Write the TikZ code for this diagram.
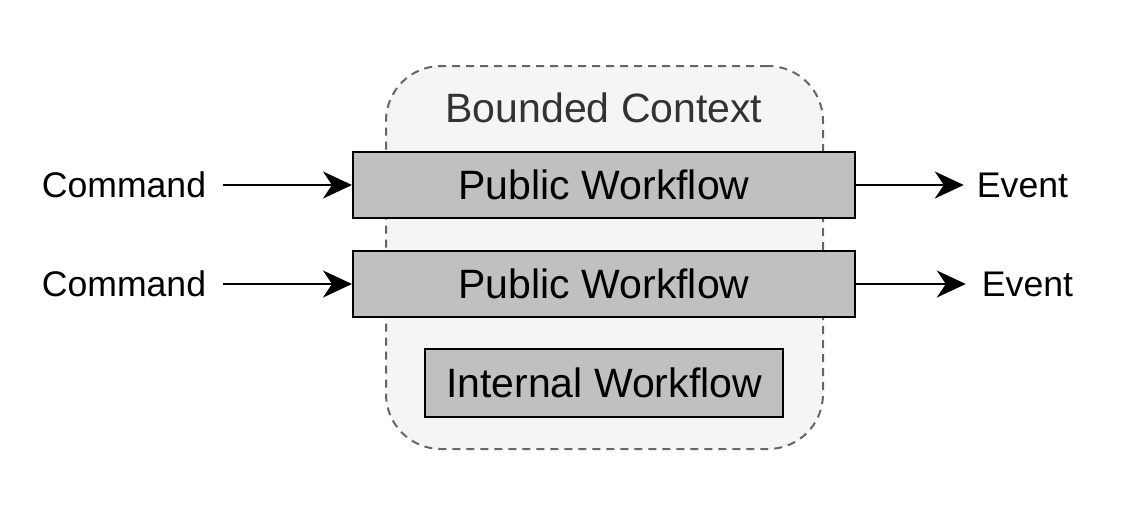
\documentclass[tikz,border=0pt]{standalone}
\usepackage{fontspec}
\setmainfont{Liberation Sans}
\usetikzlibrary{arrows.meta}

\definecolor{boxgray}{RGB}{192,192,192}
\definecolor{ctxfill}{RGB}{245,245,245}
\definecolor{ctxline}{RGB}{102,102,102}
\definecolor{ctxtext}{RGB}{51,51,51}

\begin{document}
\begin{tikzpicture}[x=1pt,y=-1pt,
  flow/.style={draw=black,line width=2pt,fill=boxgray,inner sep=0pt,
    font=\fontsize{41}{49}\selectfont},
  msg/.style={inner sep=0pt,font=\fontsize{35.6}{42}\selectfont},
  context/.style={draw=ctxline,fill=ctxfill,line width=2pt,
    dash pattern=on 8pt off 6pt,rounded corners=55pt},
  flowarrow/.style={line width=2pt,-{Stealth[length=29pt,width=27pt,inset=9pt]}}]
 \useasboundingbox (0,0) rectangle (1142,504);

\node[context,minimum width=437pt,minimum height=383pt] (ctx) at (604.5,257.5) {};
\node[inner sep=0pt,text=ctxtext,font=\fontsize{41}{49}\selectfont] (title) at (604,108) {Bounded Context};

\node[flow,minimum width=502pt,minimum height=66pt] (pubA) at (604,185) {Public Workflow};
\node[flow,minimum width=502pt,minimum height=66pt] (pubB) at (604,284) {Public Workflow};
\node[flow,minimum width=358pt,minimum height=68pt] (internal) at (604,383) {Internal Workflow};

\node[msg] (cmdA) at (124,185) {Command};
\node[msg] (cmdB) at (124,284) {Command};
\node[msg] (evtA) at (1022.5,185) {Event};
\node[msg] (evtB) at (1027.5,284) {Event};

\draw[flowarrow,shorten <=17pt] (cmdA) -- (pubA);
\draw[flowarrow,shorten <=17pt] (cmdB) -- (pubB);
\draw[flowarrow,shorten >=13pt] (pubA) -- (evtA);
\draw[flowarrow,shorten >=16pt] (pubB) -- (evtB);

\end{tikzpicture}
\end{document}
